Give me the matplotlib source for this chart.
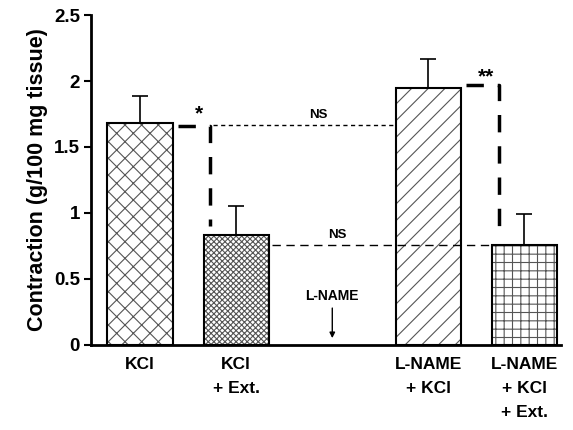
import numpy as np
import matplotlib.pyplot as plt

plt.rcParams['font.family'] = ['Liberation Sans', 'DejaVu Sans']
plt.rcParams['font.weight'] = 'bold'
plt.rcParams['hatch.linewidth'] = 0.8

labels = ['KCl', 'KCl\n+ Ext.', 'L-NAME\n+ KCl', 'L-NAME\n+ KCl\n+ Ext.']
positions = [0, 1, 3, 4]
means = [1.68, 0.83, 1.95, 0.76]
errors = [0.21, 0.22, 0.22, 0.23]
hatches = ['xx', 'xxxxxx', '//', '++']

fig = plt.figure(figsize=(5.73, 4.3), dpi=100)
ax = fig.add_axes([0.159, 0.198, 0.82, 0.767])

# hatch in grey, outline in black
for p, m, h in zip(positions, means, hatches):
    ax.bar(p, m, width=0.68, color='white', edgecolor='#555555', hatch=h,
           linewidth=0, zorder=2)
    ax.bar(p, m, width=0.68, fill=False, edgecolor='black', linewidth=1.5, zorder=3)
ax.errorbar(positions, means, yerr=[np.zeros(4), errors], fmt='none',
            ecolor='black', elinewidth=1.2, capsize=6, capthick=1.2, zorder=1)

# significance brackets
ax.plot([0.39, 0.73, 0.73], [1.66, 1.66, 0.9], color='black', lw=2.5,
        dashes=(5, 4), zorder=4)
ax.text(0.61, 1.68, '*', ha='center', va='bottom', fontsize=15)
ax.plot([3.39, 3.73, 3.73], [1.97, 1.97, 0.85], color='black', lw=2.5,
        dashes=(5, 4), zorder=4)
ax.text(3.6, 1.96, '**', ha='center', va='bottom', fontsize=15)

# NS lines
ax.plot([0.76, 2.66], [1.67, 1.67], color='black', lw=1, dashes=(3, 2.5), zorder=4)
ax.text(1.85, 1.7, 'NS', ha='center', va='bottom', fontsize=9.5)
ax.plot([1.37, 3.66], [0.76, 0.76], color='black', lw=1, dashes=(6, 4), zorder=4)
ax.text(2.05, 0.79, 'NS', ha='center', va='bottom', fontsize=9.5)

# L-NAME arrow
ax.annotate('', xy=(2.0, 0.03), xytext=(2.0, 0.3),
            arrowprops=dict(arrowstyle='-|>', color='black', lw=1, mutation_scale=8))
ax.text(2.0, 0.32, 'L-NAME', ha='center', va='bottom', fontsize=10)

ax.set_xlim(-0.51, 4.38)
ax.set_ylim(0, 2.5)
ax.set_yticks([0, 0.5, 1, 1.5, 2, 2.5])
ax.set_yticklabels(['0', '0.5', '1', '1.5', '2', '2.5'], fontsize=13.5)
ax.set_xticks(positions)
ax.set_xticklabels(labels, fontsize=12.5, va='top', linespacing=1.75)
ax.tick_params(axis='x', length=0, pad=9)
ax.tick_params(axis='y', length=5, width=1.5, direction='out', pad=3)
ax.set_ylabel('Contraction (g/100 mg tissue)', fontsize=15.5, fontweight='bold',
              labelpad=4)

for s in ['top', 'right']:
    ax.spines[s].set_visible(False)
for s in ['left', 'bottom']:
    ax.spines[s].set_linewidth(2)

fig.savefig('out.png', dpi=100)
